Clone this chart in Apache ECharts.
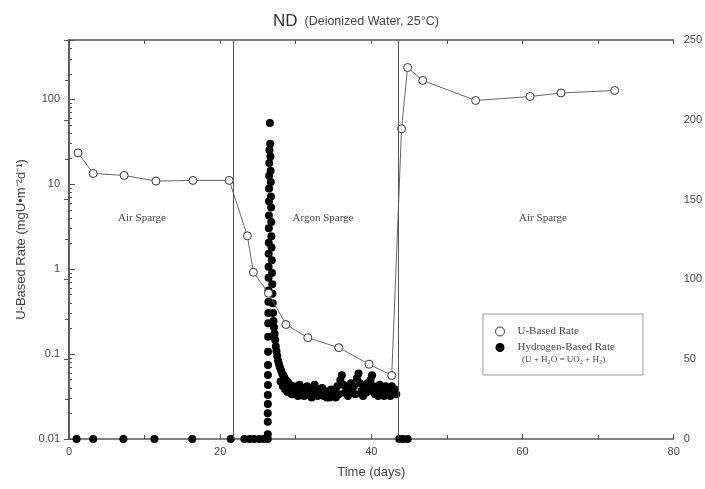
<!DOCTYPE html>
<html>
<head>
<meta charset="utf-8">
<script src="https://cdn.jsdelivr.net/npm/echarts@6/dist/echarts.min.js"></script>
<style>
  html, body { margin: 0; padding: 0; background: #fff; }
  #chart { width: 705px; height: 489px; }
</style>
</head>
<body>
<div id="chart"></div>
<script>
// U-based rate (open circles, left log axis)
const uDays = [1.2, 3.2, 7.3, 11.5, 16.4, 21.2, 23.6, 24.4, 26.4, 28.7, 31.6, 35.7, 39.7, 42.7, 44.0, 44.8, 46.8, 53.8, 61.0, 65.1, 72.2];
const uRates = [23.4, 13.4, 12.7, 10.9, 11.1, 11.1, 2.47, 0.92, 0.52, 0.223, 0.156, 0.119, 0.076, 0.056, 45, 237, 167, 97, 108, 119, 127];

// hydrogen-based rate (filled circles, right linear axis)
const hDays = [
  1.0, 3.2, 7.2, 11.3, 16.3, 21.4, 23.2, 23.9, 24.5, 25.2, 25.8,
  26.3, 26.3, 26.3, 26.3, 26.31, 26.31, 26.32, 26.32, 26.33, 26.34, 26.35, 26.36, 26.37,
  26.38, 26.39, 26.4, 26.41, 26.42, 26.43, 26.44, 26.45, 26.46, 26.47, 26.48, 26.5, 26.52,
  26.58,
  26.62, 26.65, 26.68, 26.7, 26.72, 26.74, 26.76, 26.78, 26.8, 26.83, 26.86, 26.89, 26.92, 26.95, 27.0,
  27.05, 27.12, 27.2, 27.28, 27.36, 27.45, 27.55, 27.66, 27.78, 27.9, 28.05, 28.2, 28.35, 28.5, 28.65, 28.8, 28.95, 29.1, 29.25, 29.4, 29.55,
  28.0, 28.3, 28.6, 28.9, 29.2, 29.5,
  29.7, 29.9, 30.1, 30.3, 30.5, 30.7, 30.9, 31.1, 31.3, 31.5, 31.7, 31.9, 32.1, 32.3, 32.5, 32.7, 32.9,
  33.1, 33.3, 33.5, 33.7, 33.9, 34.1, 34.3, 34.5, 34.7, 34.9, 35.1, 35.3, 35.5, 35.7, 35.9,
  36.1, 36.3, 36.5, 36.7, 36.9, 37.1, 37.3, 37.5, 37.7, 37.9, 38.1, 38.3, 38.5, 38.7, 38.9,
  39.1, 39.3, 39.5, 39.7, 39.9, 40.1, 40.3, 40.5, 40.7, 40.9, 41.1, 41.3, 41.5, 41.7, 41.9,
  42.1, 42.3, 42.5, 42.7, 42.9, 43.1, 43.3,
  43.7, 44.2, 44.8
];
const hRates = [
  0, 0, 0, 0, 0, 0, 0, 0, 0, 0, 0,
  0, 3, 10.8, 16.1, 21.9, 27.6, 33.8, 40.1, 46.4, 54.7, 64.1, 72.5, 79,
  86, 93, 101, 108, 116, 123, 132, 140, 149, 157, 165, 173, 181,
  198,
  185, 177, 168, 161, 152, 145, 136, 127, 120, 112, 104, 97, 91, 85, 79,
  74, 70, 66, 62, 58, 55, 52, 49, 47, 45, 43, 41, 40, 38.5, 37, 36, 35.5, 34.5, 33.5, 33, 32,
  36, 33, 31, 29.5, 29, 28,
  33, 28, 31, 27, 34, 29, 32, 27, 30, 33, 28, 31, 26, 30, 34, 29, 27,
  31, 28, 32, 27, 30, 26, 29, 26, 31, 27, 30, 26, 33, 28, 37,
  40, 34, 29, 32, 27, 31, 35, 29, 33, 28, 38, 41, 35, 30, 27,
  32, 29, 35, 30, 37, 40, 33, 28, 31, 27, 34, 29, 32, 27, 33,
  29, 31, 27, 33, 29, 31, 28,
  0, 0, 0
];

const phaseBounds = [21.7, 43.5];
const phaseLabels = ["Air Sparge", "Argon Sparge", "Air Sparge"];
const phaseLabelX = [142, 323, 543];

const chart = echarts.init(document.getElementById("chart"), null, { renderer: "canvas" });

const axisColor = "#555";
const textColor = "#444";
const sans = "Liberation Sans, Arial, sans-serif";
const serif = "Liberation Serif, Times New Roman, serif";

const option = {
  animation: false,
  backgroundColor: "#fff",
  title: {
    text: "{a|ND}{b|  (Deionized Water, 25°C)}",
    left: 268,
    top: 8,
    textStyle: {
      fontWeight: "normal",
      rich: {
        a: { fontSize: 17, fontFamily: sans, color: "#333", fontWeight: "normal" },
        b: { fontSize: 12.5, fontFamily: sans, color: "#444", fontWeight: "normal" }
      }
    }
  },
  grid: { left: 69, right: 24, top: 40, bottom: 50 },
  legend: {
    orient: "vertical",
    left: 490,
    top: 321,
    itemGap: 5,
    itemWidth: 9,
    itemHeight: 9,
    textStyle: { fontFamily: serif, fontSize: 11, color: textColor, padding: [0, 0, 0, 8] },
    data: [
      { name: "U-Based Rate", icon: "circle", itemStyle: { color: "#fff", borderColor: "#333", borderWidth: 1 } },
      { name: "Hydrogen-Based Rate", icon: "circle", itemStyle: { color: "#000" } }
    ]
  },
  graphic: [
    {
      type: "rect",
      shape: { x: 483, y: 314, width: 160, height: 61 },
      style: { fill: null, stroke: "#999", lineWidth: 1 },
      silent: true
    },
    {
      type: "text",
      x: 522,
      y: 355,
      style: { text: "(U + H₂O = UO₂ + H₂)", font: "9px " + serif, fill: textColor },
      silent: true
    },
    ...phaseLabels.map((t, i) => ({
      type: "text",
      x: phaseLabelX[i],
      y: 218,
      style: { text: t, font: "11px " + serif, fill: textColor, align: "center", verticalAlign: "middle" },
      silent: true
    }))
  ],
  xAxis: [
    {
      type: "value",
      min: 0,
      max: 80,
      interval: 20,
      position: "bottom",
      name: "Time (days)",
      nameLocation: "middle",
      nameGap: 27,
      nameTextStyle: { fontFamily: sans, fontSize: 13, color: textColor },
      axisLine: { lineStyle: { color: axisColor, width: 1.5 } },
      axisTick: { inside: true, length: 5, lineStyle: { color: axisColor } },
      minorTick: { show: true, splitNumber: 2, length: 4, lineStyle: { color: axisColor } },
      splitLine: { show: false },
      axisLabel: { fontFamily: sans, fontSize: 11, color: textColor, margin: 7 }
    },
    {
      type: "value",
      min: 0,
      max: 80,
      interval: 10,
      position: "top",
      axisLine: { lineStyle: { color: axisColor, width: 1.5 } },
      axisTick: { inside: true, length: 4, lineStyle: { color: axisColor } },
      splitLine: { show: false },
      axisLabel: { show: false }
    }
  ],
  yAxis: [
    {
      type: "log",
      logBase: 10,
      min: 0.01,
      max: 500,
      position: "left",
      name: "U-Based Rate (mgU•m⁻²d⁻¹)",
      nameLocation: "middle",
      nameGap: 37,
      nameTextStyle: { fontFamily: sans, fontSize: 13, color: textColor },
      axisLine: { show: true, lineStyle: { color: axisColor, width: 1.5 } },
      axisTick: { inside: true, length: 6, lineStyle: { color: axisColor } },
      minorTick: { show: true, splitNumber: 9, length: 3, lineStyle: { color: axisColor } },
      splitLine: { show: false },
      axisLabel: { fontFamily: sans, fontSize: 11, color: textColor, margin: 9, showMaxLabel: false }
    },
    {
      type: "value",
      min: 0,
      max: 250,
      interval: 50,
      position: "right",
      axisLine: { show: true, lineStyle: { color: axisColor, width: 1.5 } },
      axisTick: { inside: true, length: 5, lineStyle: { color: axisColor } },
      minorTick: { show: true, splitNumber: 2, length: 4, lineStyle: { color: axisColor } },
      splitLine: { show: false },
      axisLabel: { fontFamily: sans, fontSize: 11, color: textColor, margin: 10 }
    }
  ],
  series: [
    {
      name: "Hydrogen-Based Rate",
      type: "scatter",
      xAxisIndex: 0,
      yAxisIndex: 1,
      symbol: "circle",
      symbolSize: 8,
      itemStyle: { color: "#000", opacity: 1 },
      data: hDays.map((d, i) => [d, hRates[i]]),
      z: 3
    },
    {
      name: "U-Based Rate",
      type: "line",
      xAxisIndex: 0,
      yAxisIndex: 0,
      symbol: "circle",
      symbolSize: 8,
      showAllSymbol: true,
      lineStyle: { color: "#666", width: 1 },
      itemStyle: { color: "#fff", borderColor: "#333", borderWidth: 1 },
      data: uDays.map((d, i) => [d, uRates[i]]),
      markLine: {
        silent: true,
        symbol: "none",
        label: { show: false },
        lineStyle: { color: "#555", width: 1, type: "solid" },
        data: phaseBounds.map(x => ({ xAxis: x }))
      },
      z: 4
    }
  ]
};

chart.setOption(option);
</script>
</body>
</html>
